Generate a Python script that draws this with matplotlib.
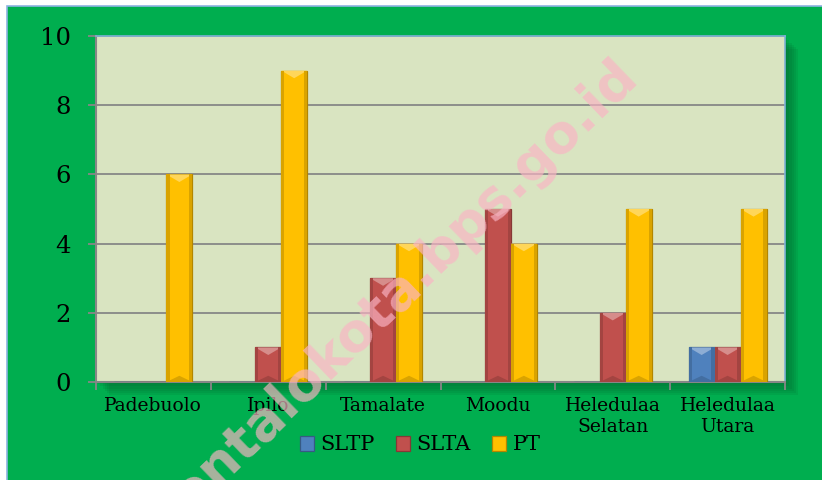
"""Jumlah sekolah per kelurahan - grafik batang (matplotlib)."""
import numpy as np
import matplotlib

matplotlib.use("Agg")
import matplotlib.pyplot as plt  # noqa: E402
from matplotlib.patches import Rectangle, Polygon  # noqa: E402
from matplotlib.colors import to_rgb  # noqa: E402

categories = ["Padebuolo", "Ipilo", "Tamalate", "Moodu",
              "Heledulaa\nSelatan", "Heledulaa\nUtara"]
series_names = ["SLTP", "SLTA", "PT"]
sltp = [0, 0, 0, 0, 0, 1]
slta = [0, 1, 3, 5, 2, 1]
pt = [6, 9, 4, 4, 5, 5]
yticks = [0, 2, 4, 6, 8, 10]

colors = ["#4F81BD", "#C0504D", "#FFC000"]
bg_green = "#00AE4F"
plot_bg = "#D9E4C1"
grid_gray = "#878787"


def shade(c, f):
    r, g, b = to_rgb(c)
    if f > 1:
        return tuple(v + (1 - v) * (f - 1) for v in (r, g, b))
    return tuple(v * f for v in (r, g, b))


fig = plt.figure(figsize=(8.22, 4.8), dpi=100, facecolor="white")

# green chart background with thin light-blue border
fig.patches.append(Rectangle((7 / 822, -0.01), 1.0, 1 - 6 / 480 + 0.01,
                             transform=fig.transFigure, facecolor=bg_green,
                             edgecolor="#8DB3E2", linewidth=1.2, zorder=0))

left, bottom, width, height = 96 / 822, 98 / 480, 689 / 822, 346 / 480

# soft shadow of the plot area (right / bottom)
for i in range(6):
    off = (i + 1) * 2.2
    fig.patches.append(Rectangle((left + off / 822, bottom - off / 480),
                                 width, height, transform=fig.transFigure,
                                 facecolor="#005a28", alpha=0.11,
                                 edgecolor="none", zorder=1))

ax = fig.add_axes([left, bottom, width, height])
ax.set_zorder(2)
ax.set_facecolor(plot_bg)

x = np.arange(len(categories))
w = 0.226
for k, (vals, col) in enumerate(zip([sltp, slta, pt], colors)):
    xs = x + (k - 1) * w
    ax.bar(xs, vals, width=w, color=col, edgecolor=shade(col, 0.7),
           linewidth=0.9, label=series_names[k], zorder=3)
    for xc, v in zip(xs, vals):
        if v <= 0:
            continue
        x0, x1 = xc - w / 2, xc + w / 2
        # bevel highlights
        ax.add_patch(Polygon([(x0, v), (x1, v), (xc, v - 0.22)], closed=True,
                             facecolor=shade(col, 1.35), edgecolor="none",
                             zorder=4))
        ax.add_patch(Polygon([(x0, 0), (x1, 0), (xc, 0.18)], closed=True,
                             facecolor=shade(col, 0.85), edgecolor="none",
                             zorder=4))
        ax.add_patch(Rectangle((x0, 0), w * 0.12, v, facecolor=shade(col, 0.85),
                               edgecolor="none", zorder=4))
        ax.add_patch(Rectangle((x1 - w * 0.12, 0), w * 0.12, v,
                               facecolor=shade(col, 0.85), edgecolor="none",
                               zorder=4))

ax.set_xlim(-0.5, len(categories) - 0.5)
ax.set_ylim(0, 10)
ax.set_yticks(yticks)
ax.set_yticklabels([str(t) for t in yticks], family="DejaVu Serif",
                   fontsize=17.5)
ax.yaxis.grid(True, color=grid_gray, linewidth=1.3, zorder=0)
ax.set_axisbelow(True)

ax.set_xticks(x)
ax.set_xticklabels(categories, family="DejaVu Serif", fontsize=13.5,
                   linespacing=1.2)
ax.set_xticks(np.arange(len(categories) + 1) - 0.5, minor=True)
ax.tick_params(axis="x", which="major", length=0, pad=11)
ax.tick_params(axis="x", which="minor", length=6, color=grid_gray, width=1.3)
ax.tick_params(axis="y", length=6, color=grid_gray, width=1.3, pad=12)

for side in ["left", "bottom"]:
    ax.spines[side].set_color(grid_gray)
    ax.spines[side].set_linewidth(1.5)
for side in ["top", "right"]:
    ax.spines[side].set_color("#7FB2D6")
    ax.spines[side].set_linewidth(1.2)

leg = fig.legend(loc="center", bbox_to_anchor=(420 / 822, 1 - 445 / 480),
                 ncol=3, frameon=False, handlelength=0.7, handleheight=0.7,
                 handletextpad=0.3, columnspacing=1.0,
                 prop={"family": "DejaVu Serif", "size": 15})
leg.set_zorder(3)

# watermark
fig.text(0.449, 0.331, "gorontalokota.bps.go.id", rotation=44,
         fontsize=38.5, fontweight="bold", color="#FAB4C4", alpha=0.68,
         ha="center", va="center", family="DejaVu Sans", zorder=10)

fig.savefig("out.png", dpi=100, facecolor=fig.get_facecolor())
plt.close(fig)
